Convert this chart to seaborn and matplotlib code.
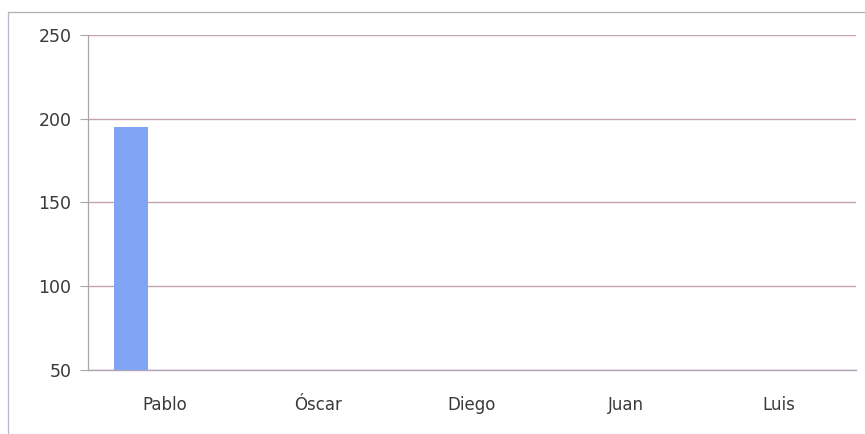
import matplotlib
matplotlib.use("Agg")
import matplotlib.pyplot as plt
import seaborn as sns
import pandas as pd
from matplotlib.lines import Line2D

# Data
categories = ["Pablo", "Óscar", "Diego", "Juan", "Luis"]
series_names = ["Serie 1", "Serie 2", "Serie 3"]
serie1 = [195, 0, 0, 0, 0]
serie2 = [0, 0, 0, 0, 0]
serie3 = [0, 0, 0, 0, 0]
y_ticks = [50, 100, 150, 200, 250]

rows = []
for name, vals in zip(series_names, [serie1, serie2, serie3]):
    for c, v in zip(categories, vals):
        rows.append({"Nombre": c, "Serie": name, "Valor": v})
df = pd.DataFrame(rows)

sns.set_theme(style="white")
plt.rcParams['font.family'] = ['DejaVu Sans']

fig = plt.figure(figsize=(8.65, 4.34), dpi=100)
ax = fig.add_axes([88/865, 1 - 370/434, (856-88)/865, (370-35)/434])

sns.barplot(data=df, x="Nombre", y="Valor", hue="Serie", order=categories,
            hue_order=series_names, palette=["#80a4f4", "#c0504d", "#9bbb59"],
            width=0.664, gap=0, legend=False, ax=ax, saturation=1,
            linewidth=0, zorder=3)

ax.set_ylim(50, 250)
ax.set_xlim(-0.5, len(categories) - 0.5)
ax.set_yticks(y_ticks)
ax.set_yticklabels([str(t) for t in y_ticks])
ax.set_xlabel("")
ax.set_ylabel("")

grid_color = "#c4a4a8"
for t in y_ticks:
    ax.axhline(t, color=grid_color, linewidth=1.0, zorder=1, snap=True)

for s in ["top", "right"]:
    ax.spines[s].set_visible(False)
ax.spines["left"].set_color("#a8a8a8")
ax.spines["left"].set_linewidth(0.9)
ax.spines["bottom"].set_color("#b0a4b8")
ax.spines["bottom"].set_linewidth(1.0)

# minor ticks at category boundaries
ax.set_xticks([i for i in range(len(categories))])
ax.set_xticklabels(categories)
ax.set_xticks([i - 0.5 for i in range(len(categories) + 1)], minor=True)
ax.tick_params(axis="x", which="major", length=0, pad=19, labelsize=12, labelcolor="#3a3a3a")
ax.tick_params(axis="x", which="minor", length=4, color="#a8a8a8", width=0.8, direction="out")
ax.tick_params(axis="y", which="major", length=6, color="#a8a8a8", width=0.8,
               pad=6, labelsize=12.5, labelcolor="#3a3a3a", direction="out")
ax.tick_params(bottom=True, left=True)
ax.tick_params(axis="x", which="major", bottom=False)

# outer chart frame (top and left visible)
fig.add_artist(Line2D([8/865, 8/865], [0, 1 - 12/434], transform=fig.transFigure,
                      color="#b8b8c8", linewidth=0.9))
fig.add_artist(Line2D([8/865, 1], [1 - 12/434, 1 - 12/434], transform=fig.transFigure,
                      color="#b0b0b0", linewidth=0.9))

fig.savefig("out.png", dpi=100)
